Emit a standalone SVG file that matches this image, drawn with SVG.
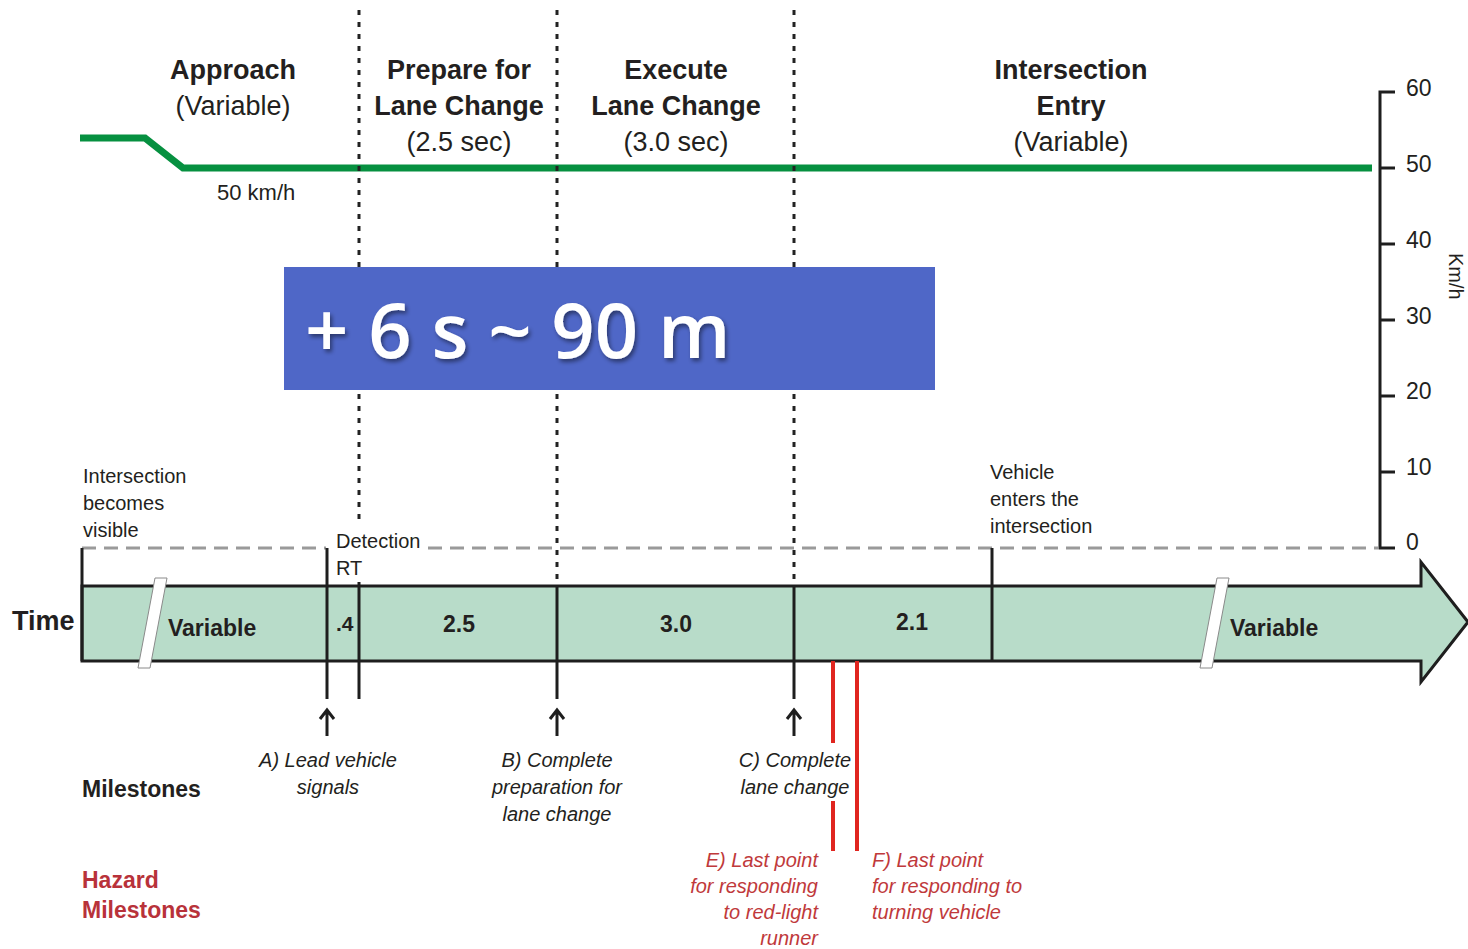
<svg xmlns="http://www.w3.org/2000/svg" width="1468" height="949" viewBox="0 0 1468 949">
<style>
text{font-family:"Liberation Sans",Arial,sans-serif;fill:#231f20}
.h{font-size:27px;font-weight:bold;text-anchor:middle}
.hs{font-size:27px;text-anchor:middle}
.ax{font-size:23px}
.lb{font-size:20px}
.bb{font-size:23px;font-weight:bold}
.it{font-size:20px;font-style:italic;text-anchor:middle}
.red{fill:#c0393b}
.dot{stroke:#222;stroke-width:3;stroke-dasharray:5 7;fill:none}
.dash{stroke:#9a9a9a;stroke-width:3;stroke-dasharray:14 8;fill:none}
.blk{stroke:#1e1e1e;stroke-width:3;fill:none}
.rl{stroke:#e0251f;stroke-width:4;fill:none}
.brk{fill:#fff;stroke:#8a8a8a;stroke-width:1}
</style>
<defs>
<filter id="sh" x="-5%" y="-20%" width="110%" height="140%">
<feDropShadow dx="2" dy="3" stdDeviation="2" flood-color="#000" flood-opacity="0.45"/>
</filter>
</defs>
<rect width="1468" height="949" fill="#fff"/>

<g id="speed-line">
<polyline points="80,138 145,138 183,168 1372,168" fill="none" stroke="#069040" stroke-width="7"/>
<text x="217" y="200" style="font-size:22px">50 km/h</text>
</g>

<g id="phase-dividers">
<line class="dot" x1="359" y1="10" x2="359" y2="519"/>
<line class="dot" x1="557" y1="10" x2="557" y2="586"/>
<line class="dot" x1="794" y1="10" x2="794" y2="586"/>
</g>

<g id="phase-approach">
<text class="h" x="233" y="79">Approach</text>
<text class="hs" x="233" y="115">(Variable)</text>
</g>
<g id="phase-prepare">
<text class="h" x="459" y="79">Prepare for</text>
<text class="h" x="459" y="115">Lane Change</text>
<text class="hs" x="459" y="151">(2.5 sec)</text>
</g>
<g id="phase-execute">
<text class="h" x="676" y="79">Execute</text>
<text class="h" x="676" y="115">Lane Change</text>
<text class="hs" x="676" y="151">(3.0 sec)</text>
</g>
<g id="phase-entry">
<text class="h" x="1071" y="79">Intersection</text>
<text class="h" x="1071" y="115">Entry</text>
<text class="hs" x="1071" y="151">(Variable)</text>
</g>

<g id="speed-axis">
<path class="blk" d="M1395,92 H1380 V548 H1395 M1380,168 H1395 M1380,244 H1395 M1380,320 H1395 M1380,396 H1395 M1380,472 H1395"/>
<text class="ax" x="1406" y="96">60</text>
<text class="ax" x="1406" y="172">50</text>
<text class="ax" x="1406" y="248">40</text>
<text class="ax" x="1406" y="324">30</text>
<text class="ax" x="1406" y="399">20</text>
<text class="ax" x="1406" y="475">10</text>
<text class="ax" x="1406" y="550">0</text>
<text class="lb" transform="translate(1449,253) rotate(90)">Km/h</text>
</g>

<g id="summary-box">
<rect x="284" y="267" width="651" height="123" fill="#4f67c7"/>
<text x="305" y="358" filter="url(#sh)" style="font-family:'Open Sans','Noto Sans',sans-serif;font-size:76px;font-weight:600;fill:#fff">+ 6 s ~ 90 m</text>
</g>

<g id="reference-line">
<line class="dash" x1="82" y1="548" x2="326" y2="548"/>
<line class="dash" x1="428" y1="548" x2="1378" y2="548"/>
</g>

<g id="time-bar">
<path d="M82,586 H1421 V562 L1468,622 L1421,682 V661 H82 Z" fill="#b8dcc9" stroke="#1e1e1e" stroke-width="3"/>
<polygon class="brk" points="155,578 167,578 150,668 138,668"/>
<polygon class="brk" points="1217,578 1229,578 1212,668 1200,668"/>
<path class="blk" d="M82,548 V661 M327,548 V699 M359,582 V699 M557,586 V699 M794,586 V699 M992,548 V661"/>
<text x="12" y="630" style="font-size:27px;font-weight:bold">Time</text>
<text class="bb" x="168" y="636">Variable</text>
<text x="336" y="631" style="font-size:21px;font-weight:bold">.4</text>
<text class="bb" x="459" y="632" text-anchor="middle">2.5</text>
<text class="bb" x="676" y="632" text-anchor="middle">3.0</text>
<text class="bb" x="912" y="630" text-anchor="middle">2.1</text>
<text class="bb" x="1230" y="636">Variable</text>
</g>

<g id="event-visible">
<text class="lb" x="83" y="483">Intersection</text>
<text class="lb" x="83" y="510">becomes</text>
<text class="lb" x="83" y="537">visible</text>
</g>
<g id="event-detection">
<text class="lb" x="336" y="548">Detection</text>
<text class="lb" x="336" y="575">RT</text>
</g>
<g id="event-enter">
<text class="lb" x="990" y="479">Vehicle</text>
<text class="lb" x="990" y="506">enters the</text>
<text class="lb" x="990" y="533">intersection</text>
</g>

<g id="connectors">
<path class="blk" d="M327,736 V710 M320,719 L327,710 L334,719"/>
<path class="blk" d="M557,736 V710 M550,719 L557,710 L564,719"/>
<path class="blk" d="M794,736 V710 M787,719 L794,710 L801,719"/>
<path class="rl" d="M833,661 V743 M833,801 V851"/>
<path class="rl" d="M857,661 V851"/>
</g>

<g id="milestone-a">
<text class="it" x="328" y="767">A) Lead vehicle</text>
<text class="it" x="328" y="794">signals</text>
</g>
<g id="milestone-b">
<text class="it" x="557" y="767">B) Complete</text>
<text class="it" x="557" y="794">preparation for</text>
<text class="it" x="557" y="821">lane change</text>
</g>
<g id="milestone-c">
<text class="it" x="795" y="767">C) Complete</text>
<text class="it" x="795" y="794">lane change</text>
</g>
<g id="hazard-e">
<text class="it red" x="818" y="867" style="text-anchor:end">E) Last point</text>
<text class="it red" x="818" y="893" style="text-anchor:end">for responding</text>
<text class="it red" x="818" y="919" style="text-anchor:end">to red-light</text>
<text class="it red" x="818" y="945" style="text-anchor:end">runner</text>
</g>
<g id="hazard-f">
<text class="it red" x="872" y="867" style="text-anchor:start">F) Last point</text>
<text class="it red" x="872" y="893" style="text-anchor:start">for responding to</text>
<text class="it red" x="872" y="919" style="text-anchor:start">turning vehicle</text>
</g>

<g id="row-labels">
<text x="82" y="797" style="font-size:23px;font-weight:bold">Milestones</text>
<text x="82" y="888" style="font-size:23px;font-weight:bold;fill:#b8323a">Hazard</text>
<text x="82" y="918" style="font-size:23px;font-weight:bold;fill:#b8323a">Milestones</text>
</g>
</svg>
